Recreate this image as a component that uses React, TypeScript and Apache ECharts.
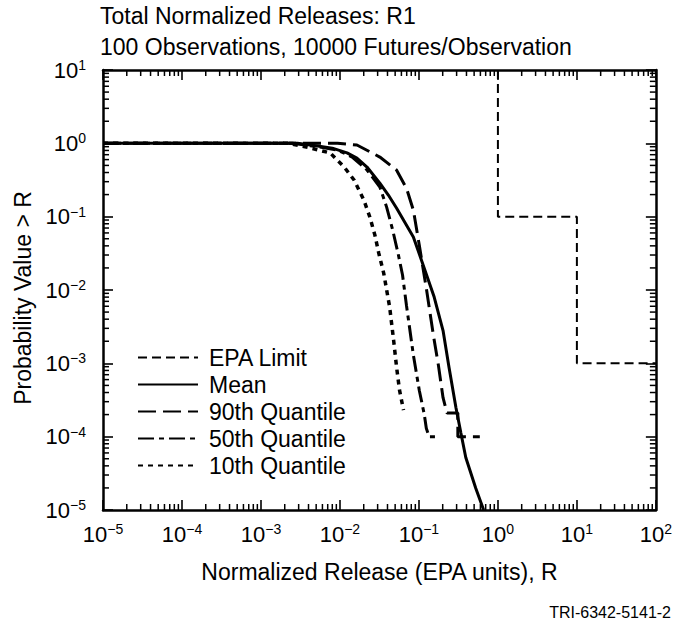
import { useEffect, useRef } from 'react';
import * as echarts from 'echarts';

const FONT = '"Liberation Sans", Arial, Helvetica, sans-serif';

const TITLE_LINES = ['Total Normalized Releases: R1', '100 Observations, 10000 Futures/Observation'];
const X_NAME = 'Normalized Release (EPA units), R';
const Y_NAME = 'Probability Value > R';
const FOOTER = 'TRI-6342-5141-2';

const X_TICK_EXPONENTS = [-5, -4, -3, -2, -1, 0, 1, 2];
const Y_TICK_EXPONENTS = [-5, -4, -3, -2, -1, 0, 1];
const MINOR_MULTIPLIERS = [2, 3, 4, 5, 6, 7, 8, 9];

const SERIES_NAMES = ['EPA Limit', 'Mean', '90th Quantile', '50th Quantile', '10th Quantile'];

const epaR = [1, 1, 10, 10, 100];
const epaP = [10, 0.1, 0.1, 0.001, 0.001];

const meanR = [1e-5, 0.0029, 0.0052, 0.008, 0.0123, 0.0164, 0.022, 0.032, 0.041, 0.052, 0.085, 0.113, 0.156, 0.202, 0.24, 0.294, 0.34, 0.392, 0.523, 0.66];
const meanP = [1, 1, 0.92, 0.86, 0.74, 0.63, 0.475, 0.287, 0.197, 0.131, 0.053, 0.022, 0.008, 0.0028, 0.00089, 0.00025, 0.000112, 5.2e-5, 2e-5, 1e-5];

const q90R = [1e-5, 0.0093, 0.0164, 0.032, 0.052, 0.0695, 0.085, 0.101, 0.124, 0.152, 0.176, 0.202, 0.227, 0.311, 0.311, 0.59];
const q90P = [1, 1, 0.95, 0.65, 0.433, 0.245, 0.123, 0.041, 0.0106, 0.00246, 0.00096, 0.00034, 0.00021, 0.00021, 0.0001, 0.0001];

const q50R = [1e-5, 0.0025, 0.0052, 0.0093, 0.0143, 0.022, 0.032, 0.039, 0.0465, 0.055, 0.062, 0.0695, 0.085, 0.101, 0.117, 0.124, 0.135, 0.18];
const q50P = [1, 1, 0.9, 0.81, 0.65, 0.433, 0.254, 0.135, 0.066, 0.03, 0.016, 0.0062, 0.0013, 0.00043, 0.0002, 0.00013, 0.0001, 0.0001];

const q10R = [1e-5, 0.0022, 0.00425, 0.00755, 0.0113, 0.0151, 0.0201, 0.0239, 0.0277, 0.031, 0.0358, 0.0426, 0.0478, 0.0521, 0.0568, 0.0638];
const q10P = [1, 1, 0.863, 0.738, 0.475, 0.316, 0.168, 0.099, 0.056, 0.0318, 0.017, 0.00585, 0.00207, 0.00089, 0.00043, 0.00023];

const X_MIN = 1e-5;
const X_MAX = 100;
const Y_MIN = 1e-5;
const Y_MAX = 10;

function minorTicks(exps: number[]) {
  const out: number[] = [];
  for (let i = 0; i < exps.length - 1; i++) {
    for (const k of MINOR_MULTIPLIERS) out.push(k * Math.pow(10, exps[i]));
  }
  return out;
}

const xMinor = minorTicks(X_TICK_EXPONENTS);
const yMinor = minorTicks(Y_TICK_EXPONENTS);

function zip(a: number[], b: number[]) {
  return a.map((v, i) => [v, b[i]]);
}

function expLabel(value: number) {
  const e = Math.round(Math.log10(value));
  const s = e < 0 ? '\u2212' + -e : String(e);
  return '{b|10}{s|' + s + '}';
}

const labelRich = {
  b: { fontSize: 22, lineHeight: 24, fontFamily: FONT, color: '#000' },
  s: { fontSize: 14, lineHeight: 14, verticalAlign: 'top', fontFamily: FONT, color: '#000' },
};

const AXIS_LINE = { show: true, lineStyle: { color: '#000', width: 2.5 } };
const MAJOR_TICK = { show: true, inside: true, length: 10, lineStyle: { color: '#000', width: 1.6 } };
const MINOR_LEN = 6;

export default function App() {
  const ref = useRef<HTMLDivElement>(null);

  useEffect(() => {
    if (!ref.current) return;
    const chart = echarts.init(ref.current, undefined, { renderer: 'svg' });

    const lineSeries = (name: string, r: number[], p: number[], width: number, type: any) => ({
      name,
      type: 'line',
      data: zip(r, p),
      symbol: 'none',
      showSymbol: false,
      smooth: false,
      silent: true,
      lineStyle: { color: '#000', width, type },
      itemStyle: { color: 'transparent', borderColor: 'transparent', borderWidth: 0 },
      z: 3,
    });

    const tickStyle = { stroke: '#000', lineWidth: 1.5 };

    const option: any = {
      animation: false,
      backgroundColor: '#fff',
      textStyle: { fontFamily: FONT },
      title: {
        text: TITLE_LINES.join('\n'),
        left: 100,
        top: 0,
        padding: 0,
        textStyle: { fontSize: 23, fontWeight: 'normal', lineHeight: 31, color: '#000', fontFamily: FONT },
      },
      legend: {
        data: SERIES_NAMES,
        orient: 'vertical',
        left: 137,
        top: 344,
        padding: 0,
        itemWidth: 60,
        itemHeight: 14,
        itemGap: 0,
        selectedMode: false,
        itemStyle: { color: 'transparent', borderColor: 'transparent', borderWidth: 0, opacity: 0 },
        textStyle: { fontSize: 23, lineHeight: 27, color: '#000', fontFamily: FONT, padding: [0, 0, 0, 6] },
      },
      grid: { left: 103, right: 12, top: 70, bottom: 117, containLabel: false },
      xAxis: [
        {
          type: 'log',
          logBase: 10,
          min: X_MIN,
          max: X_MAX,
          splitNumber: X_TICK_EXPONENTS.length - 1,
          position: 'bottom',
          axisLine: AXIS_LINE,
          axisTick: MAJOR_TICK,
          splitLine: { show: false },
          axisLabel: { formatter: expLabel, rich: labelRich, margin: 12 },
          name: X_NAME,
          nameLocation: 'middle',
          nameGap: 51,
          nameTextStyle: { fontSize: 23, lineHeight: 22, color: '#000', fontFamily: FONT },
        },
        {
          type: 'log',
          logBase: 10,
          min: X_MIN,
          max: X_MAX,
          splitNumber: X_TICK_EXPONENTS.length - 1,
          position: 'top',
          axisLine: AXIS_LINE,
          axisTick: MAJOR_TICK,
          splitLine: { show: false },
          axisLabel: { show: false },
        },
      ],
      yAxis: [
        {
          type: 'log',
          logBase: 10,
          min: Y_MIN,
          max: Y_MAX,
          splitNumber: Y_TICK_EXPONENTS.length - 1,
          position: 'left',
          axisLine: AXIS_LINE,
          axisTick: MAJOR_TICK,
          splitLine: { show: false },
          axisLabel: { formatter: expLabel, rich: labelRich, margin: 17 },
          name: Y_NAME,
          nameLocation: 'middle',
          nameGap: 69,
          nameTextStyle: { fontSize: 23, lineHeight: 22, color: '#000', fontFamily: FONT, padding: [0, 16, 0, 0] },
        },
        {
          type: 'log',
          logBase: 10,
          min: Y_MIN,
          max: Y_MAX,
          splitNumber: Y_TICK_EXPONENTS.length - 1,
          position: 'right',
          axisLine: AXIS_LINE,
          axisTick: MAJOR_TICK,
          splitLine: { show: false },
          axisLabel: { show: false },
        },
      ],
      graphic: [
        {
          type: 'text',
          right: 4,
          top: 604,
          style: { text: FOOTER, fontSize: 16, fill: '#000', fontFamily: FONT },
        },
      ],
      series: [
        lineSeries(SERIES_NAMES[0], epaR, epaP, 2, [9, 5]),
        lineSeries(SERIES_NAMES[1], meanR, meanP, 3, 'solid'),
        lineSeries(SERIES_NAMES[2], q90R, q90P, 3, [18, 7]),
        lineSeries(SERIES_NAMES[3], q50R, q50P, 3, [16, 5, 5, 5]),
        lineSeries(SERIES_NAMES[4], q10R, q10P, 3.5, [5, 5]),
        {
          type: 'custom',
          silent: true,
          data: xMinor.map((v) => [v, Y_MIN]),
          renderItem: (_p: any, api: any) => {
            const v = api.value(0);
            const b = api.coord([v, Y_MIN]);
            const t = api.coord([v, Y_MAX]);
            return {
              type: 'group',
              children: [
                { type: 'line', shape: { x1: b[0], y1: b[1], x2: b[0], y2: b[1] - MINOR_LEN }, style: tickStyle },
                { type: 'line', shape: { x1: t[0], y1: t[1], x2: t[0], y2: t[1] + MINOR_LEN }, style: tickStyle },
              ],
            };
          },
        },
        {
          type: 'custom',
          silent: true,
          data: yMinor.map((v) => [X_MIN, v]),
          renderItem: (_p: any, api: any) => {
            const v = api.value(1);
            const l = api.coord([X_MIN, v]);
            const r = api.coord([X_MAX, v]);
            return {
              type: 'group',
              children: [
                { type: 'line', shape: { x1: l[0], y1: l[1], x2: l[0] + MINOR_LEN, y2: l[1] }, style: tickStyle },
                { type: 'line', shape: { x1: r[0], y1: r[1], x2: r[0] - MINOR_LEN, y2: r[1] }, style: tickStyle },
              ],
            };
          },
        },
      ],
    };

    chart.setOption(option);
    return () => chart.dispose();
  }, []);

  return (
    <div
      ref={ref}
      style={{ position: 'absolute', left: 0, top: 0, width: 675, height: 627, background: '#fff' }}
    />
  );
}
